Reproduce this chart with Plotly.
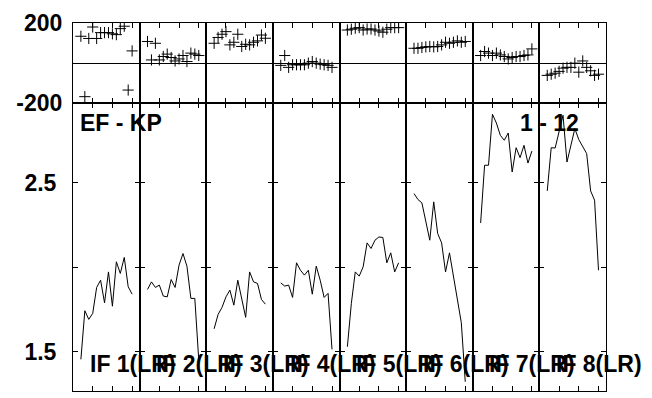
import plotly.graph_objects as go

channels = list(range(2, 16))
x_tick_vals = [5, 10, 15]
amp_tick_vals = [1.5, 2.0, 2.5]
amp_tick_text = ["1.5", "", "2.5"]
phase_tick_vals = [-200, 200]
phase_tick_text = ["-200", "200"]
if_labels = ["IF 1(LR)", "IF 2(LR)", "IF 3(LR)", "IF 4(LR)",
             "IF 5(LR)", "IF 6(LR)", "IF 7(LR)", "IF 8(LR)"]
baseline_label = "EF - KP"
range_label = "1 - 12"

amp_if1 = [1.455, 1.743, 1.692, 1.727, 1.881, 1.924, 1.790, 1.973, 1.770, 2.033, 1.964, 2.059, 1.885, 1.841]
amp_if2 = [1.869, 1.914, 1.881, 1.895, 1.830, 1.825, 1.928, 1.881, 2.013, 2.082, 2.007, 1.816, 1.816, 1.451]
amp_if3 = [1.636, 1.721, 1.763, 1.825, 1.865, 1.776, 1.924, 1.806, 1.704, 1.973, 1.914, 1.905, 1.810, 1.782]
amp_if4 = [1.908, 1.889, 1.895, 1.822, 2.027, 1.983, 1.954, 1.983, 1.841, 2.007, 1.924, 1.822, 1.846, 1.514]
amp_if5 = [1.530, 1.786, 1.973, 1.948, 2.003, 2.145, 2.112, 2.161, 2.180, 2.177, 2.027, 2.086, 1.973, 2.027]
amp_if6 = [2.437, 2.402, 2.382, 2.279, 2.161, 2.388, 2.201, 2.145, 1.973, 2.086, 1.944, 1.806, 1.672, 1.322]
amp_if7 = [2.263, 2.605, 2.605, 2.907, 2.855, 2.782, 2.753, 2.796, 2.565, 2.709, 2.650, 2.723, 2.618, 2.689]
amp_if8 = [2.453, 2.709, 2.707, 2.812, 2.901, 2.624, 2.733, 2.822, 2.757, 2.713, 2.674, 2.453, 2.398, 1.983]

phase_if1 = [134, -167, 123, 180, 123, 152, 152, 152, 146, 142, 172, 184, -134, 61]
phase_if2 = [108, 16, 99, 16, 33, 45, 28, 11, 21, 38, 8, 50, 45, 38]
phase_if3 = [99, 128, 144, 157, 91, 104, 144, 83, 94, 91, 104, 111, 140, 124]
phase_if4 = [-11, 38, -21, -8, -8, -8, -8, 0, 8, 0, -5, -8, -11, -21]
phase_if5 = [165, 169, 174, 177, 165, 170, 170, 165, 160, 154, 169, 177, 177, 177]
phase_if6 = [74, 74, 78, 81, 83, 81, 83, 91, 104, 99, 104, 111, 104, 108]
phase_if7 = [38, 58, 50, 38, 50, 41, 33, 21, 28, 33, 33, 38, 41, 71]
phase_if8 = [-61, -55, -50, -41, -25, -21, -21, 0, -45, 11, -21, -38, -61, -55]

amps = [amp_if1, amp_if2, amp_if3, amp_if4, amp_if5, amp_if6, amp_if7, amp_if8]
phases = [phase_if1, phase_if2, phase_if3, phase_if4, phase_if5, phase_if6, phase_if7, phase_if8]

# The page body has an 8 px margin, so the figure is placed at (8, 8).
OFF = 8
W, H = 652 - OFF, 398 - OFF
ML, MR, MT, MB = 73 - OFF, 46, 23 - OFF, 7
split = 0.7818
n = 8
x_range = [0, 16.9]
amp_range = [1.2675, 2.972]
phase_range = [-200, 200]
FONT = "Liberation Sans, Arial, sans-serif"

fig = go.Figure()
layout = {}
for k in range(n):
    ia = 2 * k + 1  # amplitude panel axes
    ip = 2 * k + 2  # phase panel axes
    sa = "" if ia == 1 else str(ia)
    sp = str(ip)
    fig.add_trace(go.Scatter(x=channels, y=amps[k], mode="lines",
                             line=dict(color="black", width=1),
                             xaxis="x" + sa, yaxis="y" + sa, showlegend=False))
    fig.add_trace(go.Scatter(x=channels, y=phases[k], mode="markers",
                             marker=dict(symbol="cross-thin", size=8,
                                         line=dict(color="black", width=1)),
                             xaxis="x" + sp, yaxis="y" + sp, showlegend=False))
    dom = [k / n, (k + 1) / n]
    common_x = dict(domain=dom, range=x_range, tickvals=x_tick_vals,
                    showticklabels=False, ticks="inside", ticklen=5,
                    tickcolor="black", showline=True, linecolor="black",
                    linewidth=1, mirror="ticks", showgrid=False, zeroline=False,
                    automargin=False)
    layout["xaxis" + sa] = dict(common_x, anchor="y" + sa)
    layout["xaxis" + sp] = dict(common_x, anchor="y" + sp)
    layout["yaxis" + sa] = dict(domain=[0, split], range=amp_range,
                                anchor="x" + sa, tickvals=amp_tick_vals,
                                ticktext=amp_tick_text, showticklabels=(k == 0),
                                ticks="inside", ticklen=5, tickcolor="black",
                                showline=True, linecolor="black", linewidth=1,
                                mirror="ticks", showgrid=False, zeroline=False,
                                ticklabelstandoff=11, automargin=False)
    layout["yaxis" + sp] = dict(domain=[split, 1], range=phase_range,
                                anchor="x" + sp, tickvals=phase_tick_vals,
                                ticktext=phase_tick_text, showticklabels=(k == 0),
                                ticks="inside", ticklen=5, tickcolor="black",
                                showline=True, linecolor="black",
                                linewidth=1, mirror=True, showgrid=False,
                                zeroline=True, zerolinecolor="black",
                                zerolinewidth=1, ticklabelstandoff=5,
                                automargin=False)

pw = W - ML - MR
ph = H - MT - MB


def px_x(page_x):
    return (page_x - OFF - ML) / pw


def px_y(page_y):
    return (H - MB - (page_y - OFF)) / ph


annotations = [
    dict(text=baseline_label, xref="paper", yref="paper",
         x=px_x(78), y=px_y(123.4), xanchor="left", yanchor="middle",
         showarrow=False, font=dict(size=23, family=FONT, color="black", weight="bold")),
    dict(text=range_label, xref="paper", yref="paper",
         x=px_x(581), y=px_y(123), xanchor="right", yanchor="middle",
         showarrow=False, font=dict(size=23, family=FONT, color="black", weight="bold")),
]
for k in range(n):
    annotations.append(dict(text=if_labels[k], xref="paper", yref="paper",
                            x=(k + 0.22) / n, y=px_y(364),
                            xanchor="left", yanchor="middle", showarrow=False,
                            font=dict(size=23, family=FONT, color="black", weight="bold")))

fig.update_layout(**layout)
fig.update_layout(width=W, height=H, margin=dict(l=ML, r=MR, t=MT, b=MB, autoexpand=False),
                  plot_bgcolor="white", paper_bgcolor="white",
                  font=dict(family=FONT, size=23, color="black", weight="bold"),
                  annotations=annotations, showlegend=False)
fig.write_html("out.html")
